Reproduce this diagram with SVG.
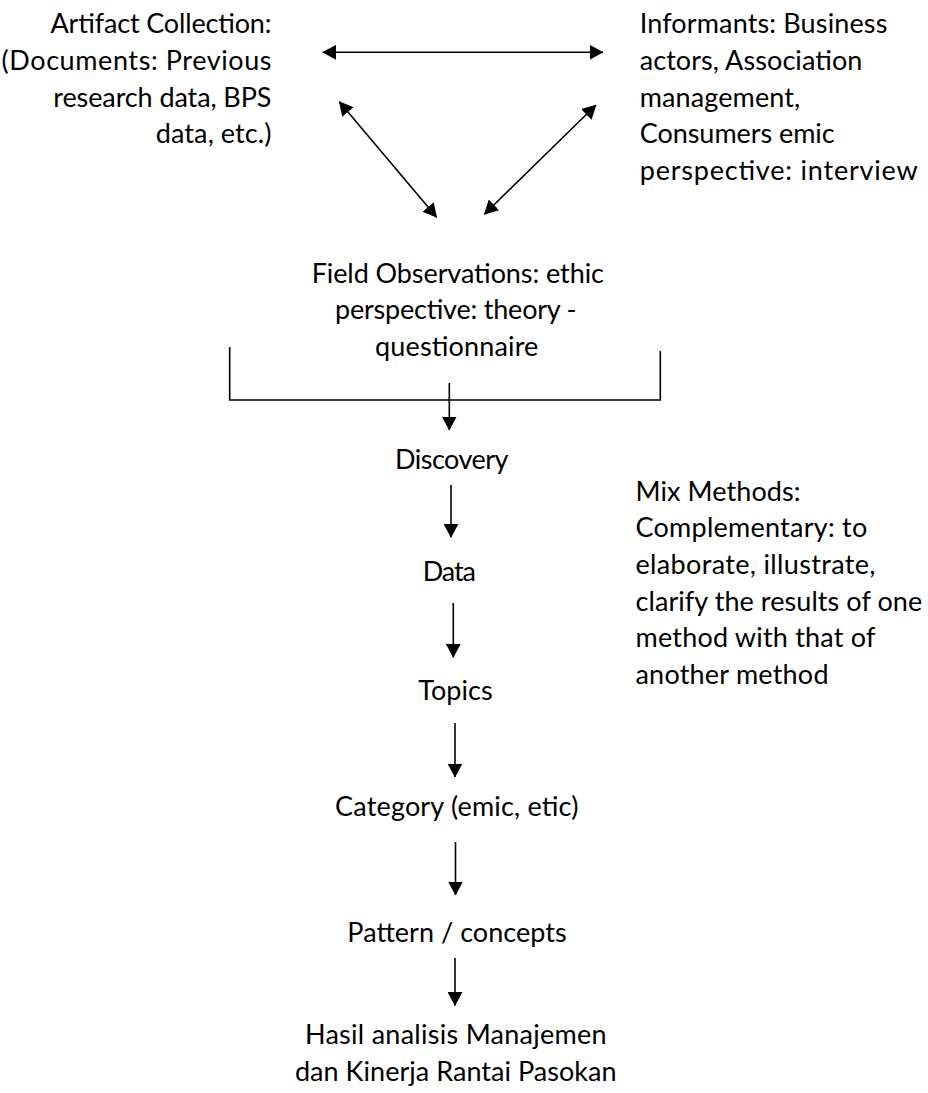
<svg xmlns="http://www.w3.org/2000/svg" width="928" height="1093" viewBox="0 0 928 1093">
<style>
text{font-family:"Lato","Liberation Sans",sans-serif;font-size:27px;fill:#000}
.c line,.c path{stroke:#000;stroke-width:1.6;fill:none}
.e{text-anchor:end}.m{text-anchor:middle}
</style>
<defs>
<marker id="ah" viewBox="0 0 14 15" markerWidth="14" markerHeight="15" refX="13.5" refY="7.5" markerUnits="userSpaceOnUse" orient="auto-start-reverse">
<path d="M0,0 L14,7.5 L0,15 z" fill="#000"/>
</marker>
</defs>
<rect width="928" height="1093" fill="#fff"/>
<g class="c" id="connectors">
<line x1="322.7" y1="52.3" x2="603" y2="52.3" marker-start="url(#ah)" marker-end="url(#ah)"/>
<line x1="339.3" y1="101.7" x2="436.7" y2="217.3" marker-start="url(#ah)" marker-end="url(#ah)"/>
<line x1="596" y1="105" x2="484.3" y2="214.3" marker-start="url(#ah)" marker-end="url(#ah)"/>
<path d="M229.7,347 V400 H660.3 V351"/>
<line x1="449.3" y1="383" x2="449.3" y2="430" marker-end="url(#ah)"/>
<line x1="451" y1="485" x2="451" y2="537.3" marker-end="url(#ah)"/>
<line x1="453.3" y1="603" x2="453.3" y2="657.3" marker-end="url(#ah)"/>
<line x1="455" y1="723" x2="455" y2="777" marker-end="url(#ah)"/>
<line x1="455.5" y1="842" x2="455.5" y2="895" marker-end="url(#ah)"/>
<line x1="455" y1="958" x2="455" y2="1005.5" marker-end="url(#ah)"/>
</g>
<g id="artifact">
<text class="e" x="271.5" y="33.3" textLength="221">Artifact Collection:</text>
<text class="e" x="271.5" y="70" textLength="270">(Documents: Previous</text>
<text class="e" x="271.5" y="106.7" textLength="218.3">research data, BPS</text>
<text class="e" x="271.5" y="143.3" textLength="115.7">data, etc.)</text>
</g>
<g id="informants">
<text x="639.7" y="33.3" textLength="247.7">Informants: Business</text>
<text x="639.7" y="70" textLength="222.7">actors, Association</text>
<text x="639.7" y="106.7" textLength="160.5">management,</text>
<text x="639.7" y="143.3" textLength="195">Consumers emic</text>
<text x="639.7" y="180" textLength="278">perspective: interview</text>
</g>
<g id="field">
<text class="m" x="457.8" y="282.7" textLength="292.3">Field Observations: ethic</text>
<text class="m" x="455.8" y="319.3" textLength="241.7">perspective: theory -</text>
<text class="m" x="456.7" y="356" textLength="163.3">questionnaire</text>
</g>
<g id="discovery"><text class="m" x="451.7" y="469" textLength="113.3">Discovery</text></g>
<g id="data"><text class="m" x="449.3" y="580.6" textLength="53.3">Data</text></g>
<g id="topics"><text class="m" x="455.5" y="700" textLength="74.3">Topics</text></g>
<g id="category"><text class="m" x="456.7" y="816" textLength="243.3">Category (emic, etic)</text></g>
<g id="pattern"><text class="m" x="457" y="941.7" textLength="219.3">Pattern / concepts</text></g>
<g id="hasil">
<text class="m" x="455.8" y="1044" textLength="301.7">Hasil analisis Manajemen</text>
<text class="m" x="455.8" y="1080.5" textLength="321.7">dan Kinerja Rantai Pasokan</text>
</g>
<g id="mix">
<text x="635.5" y="500.7" textLength="165">Mix Methods:</text>
<text x="635.5" y="537.3" textLength="231.7">Complementary: to</text>
<text x="635.5" y="574" textLength="240">elaborate, illustrate,</text>
<text x="635.5" y="610.7" textLength="286.7">clarify the results of one</text>
<text x="635.5" y="647.3" textLength="240">method with that of</text>
<text x="635.5" y="684" textLength="193">another method</text>
</g>
</svg>
